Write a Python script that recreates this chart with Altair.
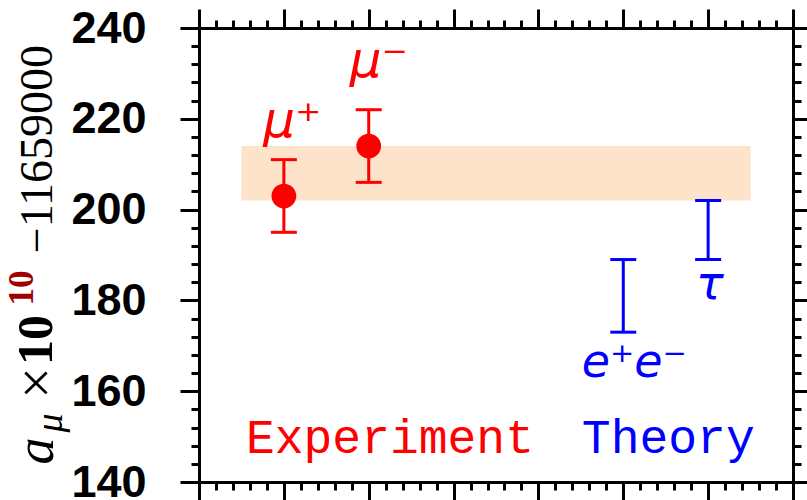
import altair as alt
import pandas as pd

# --- values -------------------------------------------------------------
exp_labels = ["μ⁺", "μ⁻"]
exp_x = [1, 2]
exp_val = [203, 214]
exp_err = [8, 8]

th_labels = ["e⁺e⁻", "τ"]
th_x = [5, 6]
th_lo = [173, 189]
th_hi = [189, 202]

band_x = [0.5, 6.5]
band_y = [202, 214]

y_ticks = list(range(140, 241, 4))
x_ticks = [round(i * 0.2, 1) for i in range(36)]

RED = "#ff0000"
BLUE = "#0000ff"

# --- tables -------------------------------------------------------------
exp_df = pd.DataFrame({
    "label": exp_labels, "x": exp_x, "val": exp_val,
    "lo": [v - e for v, e in zip(exp_val, exp_err)],
    "hi": [v + e for v, e in zip(exp_val, exp_err)],
})
exp_caps = pd.DataFrame({
    "x": exp_df["x"].tolist() * 2,
    "y": exp_df["lo"].tolist() + exp_df["hi"].tolist(),
})
th_df = pd.DataFrame({"label": th_labels, "x": th_x, "lo": th_lo, "hi": th_hi})
th_caps = pd.DataFrame({"x": th_x * 2, "y": th_lo + th_hi})
band_df = pd.DataFrame({"x0": [band_x[0]], "x1": [band_x[1]],
                        "lo": [band_y[0]], "hi": [band_y[1]]})

xs = alt.Scale(domain=[0, 7], nice=False, zero=False)
ys = alt.Scale(domain=[140, 240], nice=False, zero=False)

tick_y = {"condition": {"test": "datum.value % 20 === 0", "value": 19}, "value": 8}
tick_x = {"condition": {"test": "abs(datum.value - round(datum.value)) < 0.001", "value": 19},
          "value": 8}

frame = dict(domainColor="black", domainWidth=3, tickColor="black", tickWidth=3,
             grid=False, title=None)

ax_left = alt.Axis(orient="left", values=y_ticks, tickSize=tick_y,
                   labelExpr="datum.value % 20 === 0 ? datum.label : ''",
                   labelFont="Liberation Sans", labelFontSize=45, labelFontWeight="bold",
                   labelColor="black", labelPadding=34, labelBaseline="middle", **frame)
ax_right = alt.Axis(orient="right", values=y_ticks, tickSize=tick_y, labels=False, **frame)
ax_bottom = alt.Axis(orient="bottom", values=x_ticks, tickSize=tick_x, labels=False, **frame)
ax_top = alt.Axis(orient="top", values=x_ticks, tickSize=tick_x, labels=False, **frame)

# --- band ---------------------------------------------------------------
band = alt.Chart(band_df).mark_rect(color="#fce3c9").encode(
    x=alt.X("x0:Q", scale=xs, axis=ax_bottom), x2="x1",
    y=alt.Y("lo:Q", scale=ys, axis=ax_left), y2="hi",
)

# --- experiment ---------------------------------------------------------
exp_bars = alt.Chart(exp_df).mark_rule(color=RED, strokeWidth=3).encode(
    x=alt.X("x:Q", scale=xs, axis=ax_top),
    y=alt.Y("lo:Q", scale=ys, axis=ax_right), y2="hi",
)
exp_cap = alt.Chart(exp_caps).mark_tick(color=RED, orient="horizontal", size=26,
                                        thickness=3, opacity=1).encode(
    x=alt.X("x:Q", scale=xs, axis=None), y=alt.Y("y:Q", scale=ys, axis=None),
)
exp_pts = alt.Chart(exp_df).mark_circle(color=RED, size=610, opacity=1).encode(
    x=alt.X("x:Q", scale=xs, axis=None), y=alt.Y("val:Q", scale=ys, axis=None),
)

# --- theory -------------------------------------------------------------
th_bars = alt.Chart(th_df).mark_rule(color=BLUE, strokeWidth=3).encode(
    x=alt.X("x:Q", scale=xs, axis=None),
    y=alt.Y("lo:Q", scale=ys, axis=None), y2="hi",
)
th_cap = alt.Chart(th_caps).mark_tick(color=BLUE, orient="horizontal", size=26,
                                      thickness=3, opacity=1).encode(
    x=alt.X("x:Q", scale=xs, axis=None), y=alt.Y("y:Q", scale=ys, axis=None),
)

# --- annotations (anchor in data coordinates) ---------------------------
def note(text, x, y, color, size, font="DejaVu Sans", style="italic",
         weight="normal", baseline="alphabetic"):
    df = pd.DataFrame({"t": [text], "x": [x], "y": [y]})
    return alt.Chart(df).mark_text(
        color=color, font=font, fontSize=size, fontStyle=style,
        fontWeight=weight, align="center", baseline=baseline,
    ).encode(
        x=alt.X("x:Q", scale=xs, axis=None),
        y=alt.Y("y:Q", scale=ys, axis=None),
        text="t:N",
    )

notes = [
    note(exp_labels[0], 1.10, 216.0, RED, 50),
    note(exp_labels[1], 2.12, 229.2, RED, 50),
    note(th_labels[0], 5.13, 163.1, BLUE, 46),
    note(th_labels[1], 6.02, 180.4, BLUE, 46),
    note("Experiment", 2.25, 146.4, RED, 48, font="Liberation Mono", style="normal"),
    note("Theory", 5.53, 146.4, BLUE, 48, font="Liberation Mono", style="normal"),
]

# --- rotated y title, built from pieces ---------------------------------
def title_piece(text, px, py, size, color="black", style="normal", weight="normal",
                baseline="alphabetic"):
    return alt.Chart(pd.DataFrame({"t": [text]})).mark_text(
        angle=270, align="center", baseline=baseline, font="Liberation Serif",
        fontSize=size, fontStyle=style, fontWeight=weight, color=color,
    ).encode(x=alt.value(px), y=alt.value(py), text="t:N")

title = [
    title_piece("a", -146, 423, 54, style="italic"),
    title_piece("μ", -137, 395, 38, style="italic"),
    title_piece("×", -161, 355, 56, baseline="middle"),
    title_piece("10", -147, 312, 50, weight="bold"),
    title_piece("10", -166, 260, 35, color="#a00000", weight="bold"),
    title_piece("−11659000", -147, 121, 46),
]

chart = alt.layer(
    band, exp_bars, th_bars, exp_cap, th_cap, exp_pts, *notes, *title
).resolve_axis(x="independent", y="independent").properties(
    width=594, height=454,
    autosize=alt.AutoSizeParams(type="none"),
    padding={"left": 199, "top": 28, "right": 14, "bottom": 18},
    background="white",
).configure_view(strokeWidth=0)

chart.save("out.html", embed_options={"renderer": "svg", "actions": False})
